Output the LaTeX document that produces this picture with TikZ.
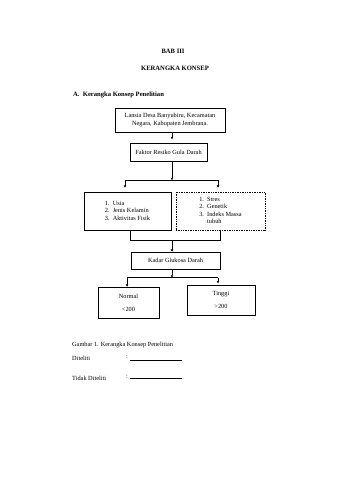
\documentclass[tikz,border=0pt]{standalone}
\usepackage{fontspec}
\setmainfont{Liberation Serif}
\usetikzlibrary{arrows.meta}
\begin{document}
\begin{tikzpicture}[x=1pt,y=-1pt,
  box/.style={draw,line width=0.7pt,inner sep=1pt,font=\fontsize{6.3}{8.5}\selectfont,align=center},
  conn/.style={line width=0.45pt},
  arr/.style={conn,-{Triangle[length=2.2pt,width=2.4pt]}},
  txt/.style={inner sep=0pt,font=\fontsize{6.3}{8}\selectfont},
  head/.style={inner sep=0pt,font=\fontsize{6.6}{8}\selectfont\bfseries}]
\fill[white] (0,0) rectangle (340,480);
\useasboundingbox (0,0) rectangle (340,480);

% headings
\node[head] (bab) at (173,51) {BAB III};
\node[head] (judul) at (175,68) {KERANGKA KONSEP};
\node[head,anchor=west] (suba) at (73,95) {A.\ \ Kerangka Konsep Penelitian};

% boxes
\node[box,minimum width=110pt,minimum height=24pt] (b1) at (170,120)
  {Lansia Desa Banyubiru, Kecamatan\\Negara, Kabupaten Jembrana.};
\node[box,minimum width=77pt,minimum height=18pt] (b2) at (168.5,152)
  {Faktor Resiko Gula Darah};
\node[box,minimum width=87pt,minimum height=38pt] (b3) at (127.5,211)
  {\begin{tabular}{@{}l@{\ \ }l@{}}1. & Usia\\[-1pt] 2. & Jenis Kelamin\\[-1pt] 3. & Aktivitas Fisik\end{tabular}};
\node[box,densely dotted,minimum width=89pt,minimum height=38pt] (b4) at (220.5,211)
  {\begin{tabular}{@{}l@{\ \ }l@{}}1. & Stres\\[-1pt] 2. & Genetik\\[-1pt] 3. & Indeks Massa\\[-1pt] & tubuh\end{tabular}};
\node[box,minimum width=89pt,minimum height=17pt] (b5) at (175.5,260.5)
  {Kadar Glukosa Darah};
\node[box,minimum width=61pt,minimum height=31pt] (b6) at (128.5,302.5)
  {Normal\\[4.5pt]<200};
\node[box,minimum width=68pt,minimum height=30pt] (b7) at (221,300)
  {Tinggi\\[5pt]>200};

% junction coordinates
\coordinate (j1) at (172,180);
\coordinate (j1l) at (125,180);
\coordinate (j1r) at (218,180);
\coordinate (j2l) at (130,240);
\coordinate (j2r) at (220,240);
\coordinate (j2) at (172,240);
\coordinate (j3) at (172,277.5);
\coordinate (j3l) at (127,277.5);
\coordinate (j3r) at (218,277.5);

% connectors
\draw[arr,line width=0.2pt,shorten >=3.5pt] (b1.south -| 172,0) -- (b2.north -| 172,0);
\draw[arr] (b2.south -| j1) -- (j1);
\draw[conn] (j1l) -- (j1r);
\draw[arr,line width=0.2pt,shorten >=4pt] (j1l) -- (b3.north -| j1l);
\draw[arr,shorten >=4pt] (j1r) -- (b4.north -| j1r);
\draw[conn] (b3.south -| j2l) -- (j2l) -- (j2r) -- (b4.south -| j2r);
\draw[arr] (j2) -- (b5.north -| j2);
\draw[arr,line width=0.2pt] (b5.south -| j3) -- (j3);
\draw[conn] (j3l) -- (j3r);
\draw[arr] (j3l) -- (b6.north -| j3l);
\draw[arr,line width=0.2pt,shorten >=1.5pt] (j3r) -- (b7.north -| j3r);

% caption and legend
\node[txt,anchor=west] (cap) at (72,345) {Gambar 1. Kerangka Konsep Penelitian};
\node[txt,anchor=west] (dit) at (72,358) {Diteliti};
\node[txt,anchor=west] (c1) at (126,357.5) {:};
\coordinate (l1a) at (130,360);
\coordinate (l1b) at (182,360);
\draw[line width=0.8pt] (l1a) -- (l1b);
\node[txt,anchor=west] (tdit) at (72,378) {Tidak Diteliti};
\node[txt,anchor=west] (c2) at (126,377.5) {:};
\coordinate (l2a) at (130,378.5);
\coordinate (l2b) at (182,378.5);
\draw[line width=0.35pt,dash pattern=on 1.5pt off 0.5pt] (l2a) -- (l2b);
\end{tikzpicture}
\end{document}
